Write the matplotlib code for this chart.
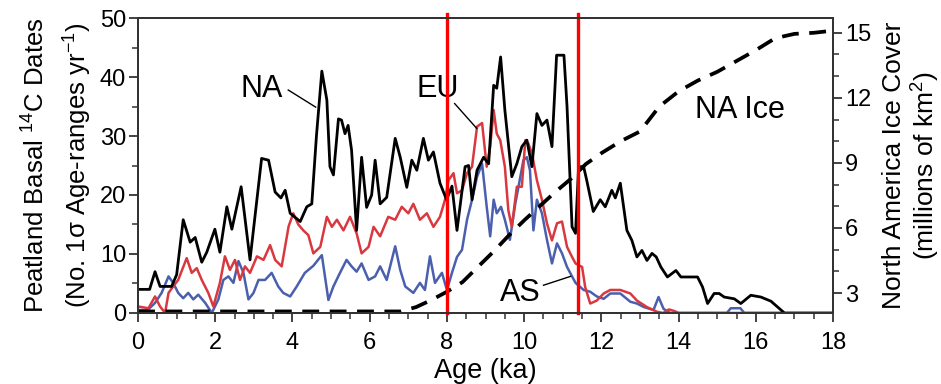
import matplotlib
matplotlib.use("Agg")
import matplotlib.pyplot as plt
import numpy as np

plt.rcParams['font.family'] = ['Liberation Sans', 'DejaVu Sans']
plt.rcParams['mathtext.fontset'] = 'custom'
plt.rcParams['mathtext.rm'] = 'Liberation Sans'
plt.rcParams['mathtext.default'] = 'regular'

# North America peatland basal dates
age_na = [0.0, 0.3, 0.44, 0.57, 0.87, 1.0, 1.17, 1.35, 1.48, 1.65, 1.78, 1.99, 2.12, 2.3,
          2.43, 2.67, 2.9, 3.2, 3.38, 3.55, 3.7, 3.81, 3.94, 4.2, 4.37, 4.5, 4.62, 4.76,
          4.89, 4.97, 5.06, 5.19, 5.27, 5.36, 5.44, 5.53, 5.66, 5.79, 5.92, 6.05, 6.14,
          6.27, 6.44, 6.66, 6.79, 6.96, 7.09, 7.22, 7.39, 7.52, 7.65, 7.82, 7.99, 8.13,
          8.26, 8.47, 8.56, 8.65, 8.78, 8.95, 9.08, 9.21, 9.29, 9.39, 9.5, 9.68, 9.81,
          9.94, 10.07, 10.2, 10.33, 10.46, 10.59, 10.72, 10.84, 11.03, 11.11, 11.24,
          11.33, 11.41, 11.54, 11.62, 11.79, 11.97, 12.1, 12.27, 12.36, 12.49, 12.66,
          12.79, 12.92, 13.05, 13.18, 13.31, 13.42, 13.54, 13.71, 13.93, 14.06, 14.23,
          14.49, 14.62, 14.75, 14.92, 15.05, 15.18, 15.44, 15.61, 15.87, 16.13, 16.39,
          16.6, 16.74, 18.0]
na = [4.0, 4.0, 7.0, 4.5, 4.5, 6.5, 15.8, 12.0, 12.8, 8.6, 10.3, 14.2, 10.3, 18.0,
      14.2, 21.4, 9.0, 26.2, 25.9, 20.5, 19.5, 20.8, 16.9, 15.5, 18.0, 18.5, 30.0, 41.0,
      36.1, 24.8, 23.4, 32.9, 32.7, 30.4, 31.8, 27.6, 14.0, 26.4, 17.9, 20.0, 25.9,
      18.5, 19.6, 29.6, 26.4, 21.3, 25.9, 24.2, 29.6, 25.9, 27.3, 22.0, 19.2, 21.5,
      14.0, 24.8, 25.0, 19.2, 24.2, 26.4, 25.3, 38.6, 38.1, 43.4, 34.4, 23.1, 25.3,
      28.2, 29.3, 24.8, 33.8, 31.8, 32.7, 28.2, 43.7, 43.7, 35.0, 14.6,
      13.5, 24.8, 24.8, 22.5, 17.2, 19.2, 18.0, 20.8, 19.5, 22.0, 14.0,
      12.3, 9.5, 10.6, 8.9, 10.1, 9.5, 7.8, 6.1, 7.2, 6.1, 6.1,
      6.1, 4.4, 1.6, 3.3, 3.3, 2.7, 2.4, 1.6, 3.0, 2.7, 2.0,
      0.8, 0.0, 0.0]

# Europe
age_eu = [0.0, 0.27, 0.44, 0.57, 0.7, 0.79, 0.91, 1.04, 1.26, 1.39, 1.52, 1.65, 1.82,
          1.95, 2.12, 2.25, 2.38, 2.51, 2.64, 2.77, 2.9, 3.08, 3.25, 3.42, 3.55, 3.72,
          3.9, 4.02, 4.15, 4.28, 4.41, 4.54, 4.72, 4.89, 5.02, 5.15, 5.32, 5.49, 5.66,
          5.79, 5.97, 6.1, 6.27, 6.48, 6.66, 6.83, 7.0, 7.13, 7.3, 7.48, 7.65, 7.82,
          7.95, 8.04, 8.17, 8.26, 8.39, 8.52, 8.65, 8.78, 8.91, 9.03, 9.12, 9.21, 9.29,
          9.38, 9.5, 9.59, 9.68, 9.81, 9.94, 10.03, 10.11, 10.2, 10.33, 10.46, 10.59,
          10.72, 10.85, 10.98, 11.11, 11.24, 11.33, 11.5, 11.58, 11.71, 11.88, 12.06,
          12.23, 12.49, 12.75, 12.92, 13.18, 13.44, 13.6, 13.75, 13.9, 14.0, 16.7]
eu = [1.1, 0.8, 2.8, 1.1, 0.0, 3.4, 4.5, 5.6, 9.3, 6.8, 7.6, 5.6, 3.4,
      1.1, 5.1, 9.6, 7.3, 9.0, 5.6, 7.9, 6.8, 9.6, 9.0, 11.5, 9.0, 7.9,
      14.7, 16.9, 15.0, 14.0, 13.2, 10.1, 11.2, 16.3, 14.6, 15.8, 14.0, 16.3, 13.5,
      10.1, 11.2, 14.6, 13.0, 16.3, 15.8, 18.0, 16.9, 18.5, 15.8, 16.9, 14.6, 16.3,
      19.2, 22.5, 23.7, 20.3, 20.8, 23.7, 24.8, 31.6, 32.2, 24.8, 28.2, 34.4, 30.4,
      29.3, 24.8, 17.4, 14.6, 21.4, 21.4, 29.3, 28.7, 27.1, 22.5, 19.2, 15.2,
      12.3, 15.2, 15.5, 11.2, 9.5, 8.4, 7.8, 4.4, 1.6, 2.1, 3.3,
      3.9, 3.9, 3.3, 2.1, 1.0, 0.2, 0.0, 0.6, 0.3, 0.0, 0.0]

# Asia
age_as = [0.0, 0.25, 0.44, 0.61, 0.79, 0.91, 1.04, 1.17, 1.3, 1.43, 1.56, 1.74, 1.91,
          2.08, 2.21, 2.34, 2.47, 2.6, 2.73, 2.86, 2.99, 3.12, 3.29, 3.46, 3.63, 3.76,
          3.94, 4.11, 4.32, 4.54, 4.76, 4.93, 5.06, 5.23, 5.4, 5.53, 5.66, 5.79, 5.97,
          6.14, 6.27, 6.44, 6.66, 6.79, 6.92, 7.13, 7.3, 7.43, 7.56, 7.69, 7.87, 8.0,
          8.13, 8.26, 8.39, 8.52, 8.65, 8.78, 8.91, 9.03, 9.12, 9.21, 9.29, 9.4, 9.5,
          9.63, 9.77, 9.85, 9.98, 10.07, 10.15, 10.24, 10.33, 10.46, 10.59, 10.72, 10.85,
          10.98, 11.11, 11.24, 11.33, 11.54, 11.71, 11.88, 12.06, 12.23, 12.49, 12.75,
          12.92, 13.1, 13.35, 13.48, 13.61, 13.78, 15.25, 15.35, 15.6, 15.7, 16.7]
as_ = [0.5, 0.5, 1.7, 3.4, 6.2, 5.1, 3.4, 2.5, 3.4, 2.3, 3.1, 1.7, 0.0,
       2.3, 5.6, 6.2, 5.1, 8.8, 6.8, 2.3, 3.4, 5.6, 5.6, 6.8, 4.5, 3.4,
       2.8, 4.5, 6.8, 8.0, 9.8, 2.2, 4.5, 6.8, 9.0, 7.9, 7.0, 8.4, 5.6,
       6.2, 7.9, 5.6, 11.3, 7.3, 4.5, 3.4, 5.1, 3.9, 9.6, 5.1, 6.8, 3.9,
       6.8, 9.5, 10.7, 15.8, 19.2, 23.1, 25.3, 18.0, 13.0, 19.2, 16.9, 18.0, 15.8,
       12.4, 18.5, 21.3, 25.9, 26.4, 24.2, 14.0, 19.2, 16.9, 12.4, 8.4, 11.8,
       10.1, 7.8, 6.2, 5.1, 3.9, 3.6, 2.8, 2.4, 3.3, 3.3, 1.9,
       1.6, 1.0, 0.5, 2.7, 0.7, 0.0, 0.0, 0.8, 0.8, 0.0, 0.0]

# North America ice cover (millions of km2)
age_ice = [0.0, 6.8, 7.2, 7.6, 8.0, 8.4, 8.8, 9.2, 9.6, 10.0, 10.4, 10.8, 11.2, 11.6,
           12.0, 12.5, 13.0, 13.5, 14.0, 14.5, 15.0, 15.5, 16.0, 16.5, 17.0, 17.5, 18.0]
ice = [2.15, 2.15, 2.35, 2.68, 3.06, 3.5, 4.2, 4.9, 5.65, 6.35, 7.0, 7.65, 8.25, 8.95,
       9.45, 10.0, 10.45, 11.6, 12.3, 12.8, 13.2, 13.7, 14.2, 14.75, 14.95, 15.0, 15.1]

marks = [8.0, 11.4]

fig = plt.figure(figsize=(9.41, 3.84), dpi=100)
ax = fig.add_axes([0.1467, 0.185, 0.7386, 0.768])
ax2 = ax.twinx()

ax.plot(age_as, as_, color='#4a5fae', lw=1.8, zorder=3)
ax.plot(age_eu, eu, color='#d9383f', lw=1.8, zorder=4)
ax.plot(age_na, na, color='black', lw=2.0, zorder=5)
ax2.plot(age_ice, ice, color='black', lw=2.7, ls=(0, (4.5, 2.8)))

for m in marks:
    ax2.axvline(m, color='#ff0000', lw=2.4, ymax=1.015, clip_on=False)

ax.set_xlim(0, 18)
ax.set_ylim(0, 50)
ax2.set_ylim(2.08, 15.68)

ax.set_xticks(np.arange(0, 19, 2))
ax.set_xticks(np.arange(0, 18.1, 0.5), minor=True)
ax.set_yticks(np.arange(0, 51, 10))
ax.set_yticks(np.arange(0, 51, 5), minor=True)
ax2.set_yticks([3, 6, 9, 12, 15])
ax2.set_yticks(np.arange(3, 16, 1), minor=True)

for a in (ax, ax2):
    for s in a.spines.values():
        s.set_linewidth(1.4)
        s.set_color('#333333')
ax.tick_params(axis='x', which='major', pad=7)
ax.tick_params(axis='both', which='major', labelsize=17, length=6.5, width=1.3,
               direction='out', color='#333333')
ax.tick_params(axis='y', which='major', pad=2)
ax.tick_params(axis='both', which='minor', length=4, width=1.1, direction='out',
               color='#333333')
ax2.tick_params(axis='y', which='major', labelsize=17, length=6.5, width=1.3,
                direction='out', color='#333333', pad=2)
ax2.tick_params(axis='y', which='minor', length=4, width=1.1, direction='out',
                color='#333333')

ax.set_xlabel('Age (ka)', fontsize=19.5, labelpad=3)
ax.set_ylabel('Peatland Basal $^{14}$C Dates\n(No. 1σ Age-ranges yr$^{-1}$)',
              fontsize=18.5, linespacing=1.5, labelpad=4)
ax2.set_ylabel('North America Ice Cover\n(millions of km$^{2}$)', fontsize=19,
               linespacing=1.15, labelpad=8, rotation=90)

ax.text(3.2, 38.0, 'NA', fontsize=22, ha='center', va='center', zorder=6)
ax.plot([3.89, 4.6], [37.8, 34.9], color='black', lw=1.0, zorder=6)
ax.text(7.75, 38.0, 'EU', fontsize=22, ha='center', va='center', zorder=6)
ax.plot([8.2, 8.77], [35.5, 31.3], color='black', lw=1.0, zorder=6)
ax.text(9.9, 3.4, 'AS', fontsize=22, ha='center', va='center', zorder=6)
ax.plot([10.5, 11.2], [4.7, 6.2], color='black', lw=1.0, zorder=6)
ax.text(15.6, 34.4, 'NA Ice', fontsize=22, ha='center', va='center', zorder=6)

fig.savefig('out.png', dpi=100)
